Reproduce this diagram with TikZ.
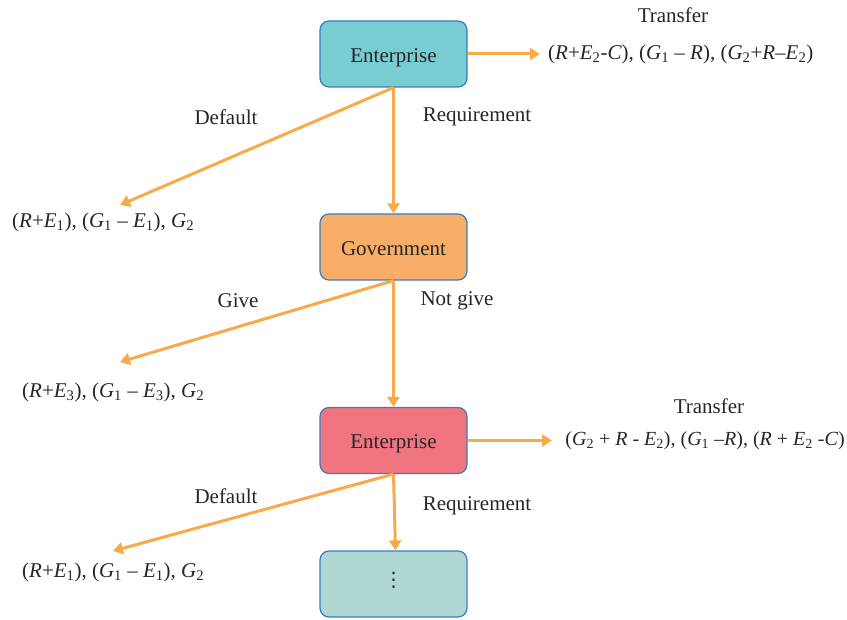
\documentclass[tikz,border=0pt]{standalone}
\usepackage{fontspec}
\setmainfont{Liberation Serif}
\newfontfamily\dvfont{DejaVu Sans}
\usetikzlibrary{arrows.meta}
\definecolor{arr}{HTML}{F8AA4B}
\definecolor{bord}{HTML}{3A7DB8}
\definecolor{cA}{HTML}{77CDD2}
\definecolor{cB}{HTML}{F8AD68}
\definecolor{cC}{HTML}{F07580}
\definecolor{cD}{HTML}{AFD8D4}
\newcommand{\vv}[1]{\textit{#1}}
\newcommand{\sbs}[1]{\textsubscript{#1}}
\tikzset{
  box/.style={draw=bord, line width=1.2pt, rounded corners=9pt, minimum width=147pt, minimum height=66pt, inner sep=0pt, text=black!85, text height=17pt, text depth=0pt},
  con/.style={draw=arr, line width=3pt, -{Triangle[length=10pt,width=12pt]}},
  lbl/.style={inner sep=0pt, text=black!85, anchor=center},
}
\begin{document}
\begin{tikzpicture}[x=1pt,y=-1pt, font=\fontsize{21}{25}\selectfont]
\useasboundingbox (0,0) rectangle (847,620);
\node[box, fill=cA] (e1) at (393.5,54) {Enterprise};
\node[box, fill=cB] (g) at (393.5,247) {Government};
\node[box, fill=cC] (e2) at (393.5,440.5) {Enterprise};
\node[box, fill=cD, text height=4pt] (d) at (393.5,584) {\dvfont\fontsize{20}{24}\selectfont ⋮};

\node[lbl] (t1) at (673,15) {Transfer};
\node[lbl, anchor=west] (p1) at (548,54) {(\vv{R}+\vv{E}\sbs{2}-\vv{C}), (\vv{G}\sbs{1} -- \vv{R}), (\vv{G}\sbs{2}+\vv{R}--\vv{E}\sbs{2})};
\node[lbl] (l1) at (226,117) {Default};
\node[lbl] (l2) at (477,117) {Requirement};
\node[lbl, anchor=west] (p2) at (12,222) {(\vv{R}+\vv{E}\sbs{1}), (\vv{G}\sbs{1} -- \vv{E}\sbs{1}), \vv{G}\sbs{2}};
\node[lbl] (l3) at (238,301) {Give};
\node[lbl] (l4) at (457,301) {Not give};
\node[lbl, anchor=west] (p3) at (22,392) {(\vv{R}+\vv{E}\sbs{3}), (\vv{G}\sbs{1} -- \vv{E}\sbs{3}), \vv{G}\sbs{2}};
\node[lbl] (t2) at (709,406) {Transfer};
\node[lbl, anchor=east, font=\fontsize{20}{24}\selectfont] (p4) at (845,440.5) {(\vv{G}\sbs{2} + \vv{R} - \vv{E}\sbs{2}), (\vv{G}\sbs{1} --\vv{R}), (\vv{R} + \vv{E}\sbs{2} -\vv{C})};
\node[lbl] (l5) at (226,496) {Default};
\node[lbl] (l6) at (477,506) {Requirement};
\node[lbl, anchor=west] (p5) at (22,572) {(\vv{R}+\vv{E}\sbs{1}), (\vv{G}\sbs{1} -- \vv{E}\sbs{1}), \vv{G}\sbs{2}};

\coordinate (a1) at (120,205);
\coordinate (a2) at (120,362);
\coordinate (a3) at (113,551);
\coordinate (a4) at (552,440.5);
\draw[con] (e1.south) -- (g.north);
\draw[con] (e1.south) -- (a1);
\draw[con, shorten >=8pt] (e1.east) -- (p1.west);
\draw[con] (g.south) -- (e2.north);
\draw[con] (g.south) -- (a2);
\draw[con] (e2.east) -- (a4);
\draw[con] (e2.south) -- ([xshift=2pt]d.north);
\draw[con] (e2.south) -- (a3);
\end{tikzpicture}
\end{document}
